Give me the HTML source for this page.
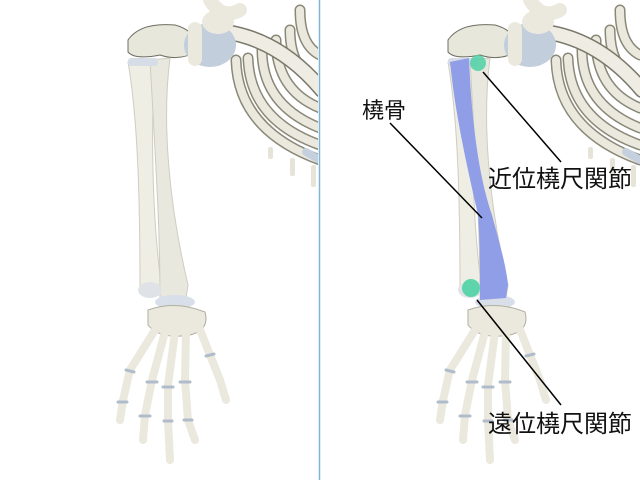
<!DOCTYPE html>
<html><head><meta charset="utf-8"><style>
html,body{margin:0;padding:0;background:#fff;width:640px;height:480px;overflow:hidden}
svg{display:block}
text{font-family:"Liberation Sans","Noto Sans CJK JP",sans-serif;fill:#111}
</style></head><body>
<svg width="640" height="480" viewBox="0 0 640 480" xmlns="http://www.w3.org/2000/svg">
<defs>
<clipPath id="cl"><rect x="0" y="0" width="318" height="480"/></clipPath>
<g id="sk">
 <g fill="none" stroke-linecap="round">
  <g stroke="#8a8878" stroke-width="11">
   <path d="M236 60 Q238 130 320 160"/>
   <path d="M248 58 Q250 120 320 145"/>
   <path d="M262 50 Q262 105 320 128"/>
   <path d="M276 40 Q276 90 320 108"/>
   <path d="M290 30 Q290 70 320 85"/>
   <path d="M300 10 Q300 45 320 55"/>
  </g>
  <g stroke="#ebe9de" stroke-width="8">
   <path d="M236 60 Q238 130 320 160"/>
   <path d="M248 58 Q250 120 320 145"/>
   <path d="M262 50 Q262 105 320 128"/>
   <path d="M276 40 Q276 90 320 108"/>
   <path d="M290 30 Q290 70 320 85"/>
   <path d="M300 10 Q300 45 320 55"/>
  </g>
  <path d="M306 152 L320 160" stroke="#c4d0de" stroke-width="8"/>
  <path d="M226 32 Q280 40 322 90" stroke="#7a786a" stroke-width="16"/>
  <path d="M226 32 Q280 40 322 90" stroke="#efede3" stroke-width="13"/>
  <path d="M210 0 Q222 20 240 10" stroke="#ebe9de" stroke-width="14"/>
 </g>
 <rect x="268" y="147" width="5" height="12" rx="2" fill="#e6e4d8"/>
 <rect x="290" y="158" width="5" height="18" rx="2" fill="#e6e4d8"/>
 <rect x="311" y="165" width="5" height="22" rx="2" fill="#e6e4d8"/>
 <path d="M128 40 Q140 22 175 25 Q195 30 200 50 Q180 62 160 55 Q135 60 128 52 Z" fill="#e8e7dc" stroke="#6f6d62" stroke-width="1"/>
 <ellipse cx="210" cy="45" rx="26" ry="22" fill="#c2cedc"/>
 <rect x="188" y="22" width="14" height="44" rx="7" fill="#ebe9de"/>
 <ellipse cx="218" cy="22" rx="16" ry="12" fill="#ebe9de"/>
 <!-- ulna -->
 <path d="M128 62 L156 60 C150 120 152 220 162 290 L140 292 C140 200 138 120 128 62 Z" fill="#efeee5" stroke="#cfcdc0" stroke-width="1"/>
 <!-- radius -->
 <path d="M150 60 L170 58 C162 120 168 200 188 285 L186 298 L160 300 C160 240 158 200 150 60 Z" fill="#e9e8de" stroke="#cfcdc0" stroke-width="1"/>
 <ellipse cx="150" cy="290" rx="12" ry="8" fill="#dfe3e8"/>
 <rect x="128" y="58" width="30" height="8" rx="3" fill="#d7dde6"/>
 <ellipse cx="175" cy="302" rx="20" ry="7" fill="#d8dfe8"/>
 <path d="M148 310 Q175 300 205 312 Q210 330 190 335 Q160 340 148 325 Z" fill="#ebe9de" stroke="#b0ae9f" stroke-width="1"/>
 <g stroke="#ebe9de" stroke-linecap="round" fill="none">
  <path d="M155 330 L130 370 L123 400 L120 420" stroke-width="8"/>
  <path d="M165 332 L152 380 L145 415 L143 440" stroke-width="8"/>
  <path d="M175 332 L168 385 L168 420 L170 460" stroke-width="8"/>
  <path d="M186 330 L185 380 L188 420 L195 440" stroke-width="8"/>
  <path d="M197 322 L210 355 L220 380 L226 400" stroke-width="8"/>
 </g>
 <g stroke="#b0bccc" stroke-width="3" stroke-linecap="round">
  <line x1="126" y1="370" x2="134" y2="372"/>
  <line x1="147" y1="382" x2="157" y2="382"/>
  <line x1="163" y1="387" x2="173" y2="387"/>
  <line x1="180" y1="382" x2="190" y2="382"/>
  <line x1="206" y1="356" x2="214" y2="354"/>
  <line x1="118" y1="402" x2="127" y2="402"/>
  <line x1="140" y1="416" x2="150" y2="416"/>
  <line x1="164" y1="421" x2="172" y2="421"/>
  <line x1="184" y1="420" x2="192" y2="420"/>
 </g>
</g>
</defs>
<g clip-path="url(#cl)"><use href="#sk"/></g>
<g transform="translate(320,0)"><use href="#sk"/></g>
<line x1="319.5" y1="0" x2="319.5" y2="480" stroke="#7fb4d6" stroke-width="1.5"/>
<path d="M450 62 L469 58 C472 130 480 180 492 215 C500 245 506 265 508 285 L506 298 L480 300 C480 270 480 240 478 215 C468 170 456 120 450 62 Z" fill="#8f9ee6"/>
<circle cx="478" cy="63" r="8" fill="#4fd1a4" opacity="0.85"/>
<circle cx="471" cy="288" r="9" fill="#4fd1a4" opacity="0.9"/>
<g stroke="#000" stroke-width="1.5">
 <line x1="390" y1="123" x2="482" y2="218"/>
 <line x1="483" y1="72" x2="561" y2="162"/>
 <line x1="477" y1="300" x2="561" y2="405"/>
</g>
<text x="362" y="118" font-size="22">橈骨</text>
<text x="488" y="187" font-size="24">近位橈尺関節</text>
<text x="488" y="432" font-size="24">遠位橈尺関節</text>
</svg>
</body></html>
